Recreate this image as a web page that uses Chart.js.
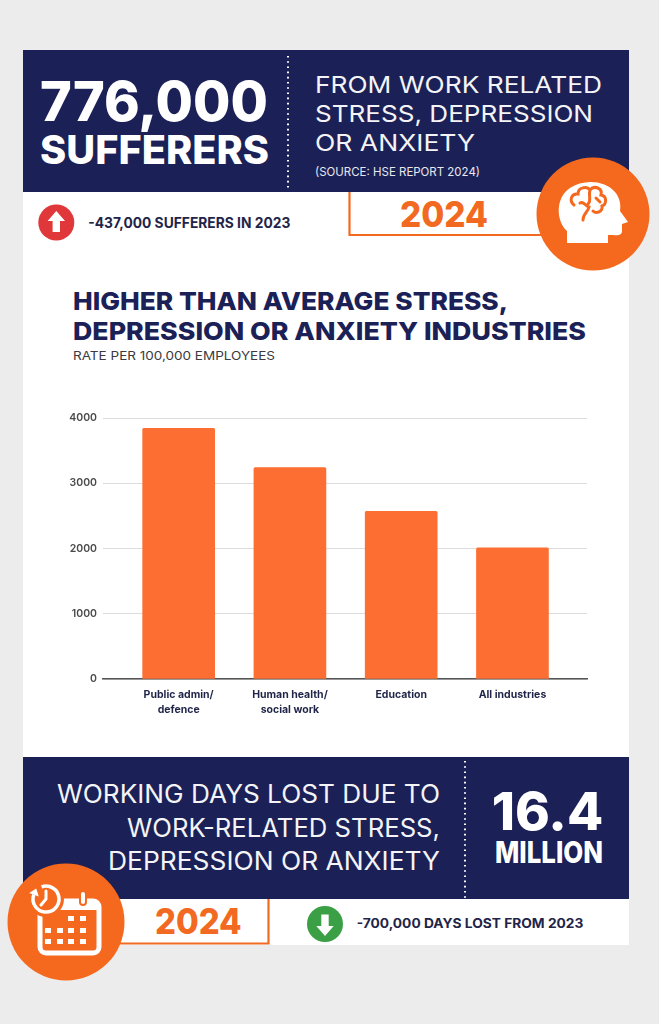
<!DOCTYPE html>
<html>
<head>
<meta charset="utf-8">
<script src="https://cdn.jsdelivr.net/npm/chart.js@4.4.1/dist/chart.umd.min.js"></script>
<style>
  html, body { margin:0; padding:0; background:#ececec; }
  #page { position:relative; width:659px; height:1024px; overflow:hidden; }
  #art { position:absolute; left:0; top:0; }
  #chartBox { position:absolute; left:40px; top:395px; width:570px; height:335px; }
  svg text { font-family: Inter, Lato, sans-serif; }
</style>
</head>
<body>
<div id="page">
<svg id="art" width="659" height="1024" viewBox="0 0 659 1024">
  <!-- card -->
  <rect x="23" y="50" width="606" height="895" fill="#ffffff"/>
  <!-- top navy block -->
  <rect x="23" y="50" width="606" height="142" fill="#1b2157"/>
  <line x1="288" y1="56" x2="288" y2="191" stroke="#fff" stroke-width="2" stroke-dasharray="1.6 3.6"/>
  <text x="40" y="121" font-size="55" font-weight="800" fill="#fff" textLength="228" lengthAdjust="spacingAndGlyphs">776,000</text>
  <text x="40" y="164" font-size="39" font-weight="800" fill="#fff" textLength="229" lengthAdjust="spacingAndGlyphs">SUFFERERS</text>
  <text x="315" y="93.3" font-size="23" font-weight="400" fill="#f4f4f6" textLength="287" lengthAdjust="spacingAndGlyphs">FROM WORK RELATED</text>
  <text x="315" y="121.7" font-size="23" font-weight="400" fill="#f4f4f6" textLength="278" lengthAdjust="spacingAndGlyphs">STRESS, DEPRESSION</text>
  <text x="315" y="150.5" font-size="23" font-weight="400" fill="#f4f4f6" textLength="160" lengthAdjust="spacingAndGlyphs">OR ANXIETY</text>
  <text x="315" y="175.5" font-size="12" font-weight="400" fill="#e8e8ee" textLength="165" lengthAdjust="spacingAndGlyphs">(SOURCE: HSE REPORT 2024)</text>

  <!-- top info row -->
  <circle cx="56.3" cy="222.5" r="18" fill="#e0373a"/>
  <path d="M56.3,211 L65,221 L60,221 L60,232 L52.6,232 L52.6,221 L47.6,221 Z" fill="#fff"/>
  <text x="88.3" y="227.7" font-size="14" font-weight="700" fill="#1f2448" textLength="202" lengthAdjust="spacingAndGlyphs">-437,000 SUFFERERS IN 2023</text>
  <path d="M349.5,192 L349.5,235 L560,235" fill="none" stroke="#f26a21" stroke-width="2.2"/>
  <text x="400" y="226.7" font-size="36" font-weight="800" fill="#f26a21" textLength="88" lengthAdjust="spacingAndGlyphs">2024</text>

  <!-- head icon -->
  <circle cx="593" cy="214" r="56.5" fill="#f5691e"/>
  <path d="M567,243 L567,231 C556,221 555,198 570,188 C583,179 605,180 615,192 C620,198 621,205 620,211 L628,222 L622,224 L622,231 C622,235 618,236 613,235 L608,235 L608,243 Z" fill="#fff"/>
  <path d="M574,205 C569,201 571,193 578,194 C578,187 587,186 590,190 C594,185 603,188 601,195 C607,196 607,204 602,206 C603,212 596,214 593,211 M590,190 C588,196 592,200 588,204 M580,203 C584,201 585,206 589,207 C588,212 583,214 583,220 M596,198 L600,202" fill="none" stroke="#f5691e" stroke-width="3" stroke-linecap="round"/>

  <!-- title -->
  <text x="73" y="309.5" font-size="25" font-weight="800" fill="#1b2157" textLength="435" lengthAdjust="spacingAndGlyphs">HIGHER THAN AVERAGE STRESS,</text>
  <text x="73" y="340" font-size="25" font-weight="800" fill="#1b2157" textLength="513" lengthAdjust="spacingAndGlyphs">DEPRESSION OR ANXIETY INDUSTRIES</text>
  <text x="73" y="360" font-size="11.5" font-weight="400" fill="#3a3a40" textLength="202" lengthAdjust="spacingAndGlyphs">RATE PER 100,000 EMPLOYEES</text>

  <!-- bottom navy block -->
  <rect x="23" y="757" width="606" height="142" fill="#1b2157"/>
  <line x1="465" y1="761" x2="465" y2="898" stroke="#fff" stroke-width="2" stroke-dasharray="1.6 3.6"/>
  <text x="440" y="803.3" text-anchor="end" font-size="25" font-weight="400" fill="#f4f4f6" textLength="383" lengthAdjust="spacingAndGlyphs">WORKING DAYS LOST DUE TO</text>
  <text x="440" y="836.5" text-anchor="end" font-size="25" font-weight="400" fill="#f4f4f6" textLength="313" lengthAdjust="spacingAndGlyphs">WORK-RELATED STRESS,</text>
  <text x="440" y="869.5" text-anchor="end" font-size="25" font-weight="400" fill="#f4f4f6" textLength="332" lengthAdjust="spacingAndGlyphs">DEPRESSION OR ANXIETY</text>
  <text x="491.7" y="830" font-size="52" font-weight="800" fill="#fff" textLength="111.6" lengthAdjust="spacingAndGlyphs">16.4</text>
  <text x="495" y="863.3" font-size="30" font-weight="800" fill="#fff" textLength="108" lengthAdjust="spacingAndGlyphs">MILLION</text>

  <!-- bottom info row -->
  <path d="M100,943.5 L268.5,943.5 L268.5,899" fill="none" stroke="#f26a21" stroke-width="2.2"/>
  <text x="155" y="934.3" font-size="35" font-weight="800" fill="#f26a21" textLength="86.7" lengthAdjust="spacingAndGlyphs">2024</text>
  <circle cx="325" cy="924" r="18" fill="#3a9f45"/>
  <path d="M325,936 L333.7,926 L328.7,926 L328.7,914.5 L321.3,914.5 L321.3,926 L316.3,926 Z" fill="#fff"/>
  <text x="356.7" y="927.7" font-size="13" font-weight="700" fill="#1f2448" textLength="226.7" lengthAdjust="spacingAndGlyphs">-700,000 DAYS LOST FROM 2023</text>

  <!-- calendar icon -->
  <circle cx="66" cy="922" r="58.5" fill="#f5691e"/>
  <rect x="40" y="901" width="59" height="52" rx="6" fill="none" stroke="#fff" stroke-width="5"/>
  <rect x="40" y="901" width="59" height="9" fill="#fff"/>
  <rect x="80" y="891" width="6" height="14" rx="3" fill="#fff" stroke="#f5691e" stroke-width="2"/>
  <g fill="#fff">
    <rect x="68" y="916" width="6" height="5"/><rect x="80" y="916" width="6" height="5"/>
    <rect x="45" y="928" width="6" height="5"/><rect x="57" y="928" width="6" height="5"/><rect x="68" y="928" width="6" height="5"/><rect x="80" y="928" width="6" height="5"/>
    <rect x="45" y="939" width="6" height="5"/><rect x="57" y="939" width="6" height="5"/><rect x="68" y="939" width="6" height="5"/><rect x="80" y="939" width="6" height="5"/>
  </g>
  <circle cx="46" cy="899" r="18" fill="#f5691e"/>
  <path d="M41.6,886.8 A13,13 0 1 1 33.8,894.6" fill="none" stroke="#fff" stroke-width="3.5"/>
  <path d="M36.2,888.6 L38.8,896.6 L29.2,893.1 Z" fill="#fff"/>
  <path d="M46,891 L46,899 L41,905" fill="none" stroke="#fff" stroke-width="3" stroke-linecap="round" stroke-linejoin="round"/>
</svg>
<div id="chartBox"><canvas id="myChart" width="570" height="335"></canvas></div>
</div>

<script>
const industries = [["Public admin/", "defence"], ["Human health/", "social work"], "Education", "All industries"];
const rates = [3840, 3240, 2570, 2010];
const yTicks = [0, 1000, 2000, 3000, 4000];

Chart.defaults.font.family = "Inter, Lato, sans-serif";

const ctx = document.getElementById('myChart').getContext('2d');
const myChart = new Chart(ctx, {
  type: 'bar',
  data: {
    datasets: [{
      label: "Rate per 100,000 employees",
      data: rates.map((v, i) => ({ x: i, y: v })),
      backgroundColor: '#fd6e32',
      borderRadius: 1.5,
      borderSkipped: 'bottom',
      barThickness: 72
    }]
  },
  options: {
    responsive: false,
    animation: false,
    layout: { padding: { top: 23, right: 23, left: 0, bottom: 0 } },
    plugins: {
      legend: { display: false },
      tooltip: { enabled: false }
    },
    scales: {
      x: {
        type: 'linear',
        offset: false,
        min: -0.68,
        max: 3.67,
        grid: { display: false, drawTicks: false, offset: false },
        border: { display: true, color: '#555', width: 1.5 },
        afterBuildTicks: function(scale) {
          scale.ticks = industries.map((_, i) => ({ value: i }));
        },
        afterFit: function(scale) { scale.height = 51; },
        ticks: {
          padding: 8,
          color: '#1f2448',
          maxRotation: 0,
          autoSkip: false,
          font: { size: 10.5, weight: 'bold', lineHeight: 1.45 },
          callback: function(value) { return industries[value]; }
        }
      },
      y: {
        min: 0,
        max: 4000,
        grid: { color: '#dcdcdc', lineWidth: 1, drawTicks: false },
        border: { display: false },
        afterBuildTicks: function(scale) {
          scale.ticks = yTicks.map(v => ({ value: v }));
        },
        afterFit: function(scale) { scale.width = 63; },
        ticks: {
          padding: 6,
          color: '#4a4a4a',
          font: { size: 10.5, weight: '600' },
          callback: function(value) { return String(value); }
        }
      }
    }
  }
});
</script>
</body>
</html>
